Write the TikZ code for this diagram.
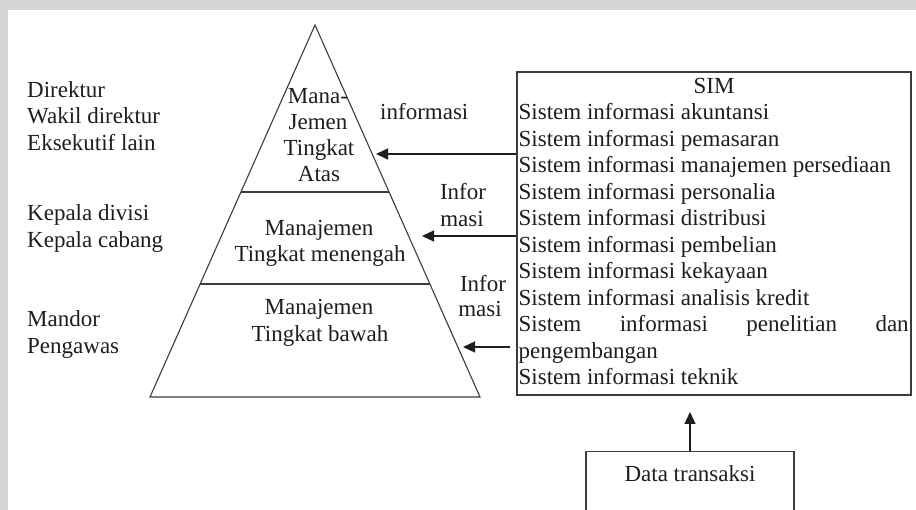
\documentclass[tikz,border=0pt]{standalone}
\usepackage{fontspec}
\setmainfont{Liberation Serif}
\usetikzlibrary{arrows.meta,calc}
\definecolor{frame}{RGB}{214,214,214}
\definecolor{ink}{RGB}{30,30,30}
\definecolor{rule}{RGB}{60,60,60}

\begin{document}
\begin{tikzpicture}[x=1pt,y=-1pt,
  txt/.style={font=\fontsize{23}{26.5}\selectfont, text=ink, inner sep=0pt},
  lft/.style={txt, anchor=base west},
  mid/.style={txt, anchor=base},
  edge/.style={line width=1.1pt, draw=rule},
  arr/.style={line width=1.3pt, draw=ink, -{Triangle[length=12pt,width=11pt]}},
]
% page frame
\useasboundingbox (0,0) rectangle (916,510);
\clip (0,0) rectangle (916,510);
\fill[frame] (0,0) rectangle (916,510);
\fill[white] (8,10) rectangle (916,510);

% management pyramid
\coordinate (apex) at (315,25);
\coordinate (bl) at (150,397);
\coordinate (br) at (480,397);
\draw[edge] (bl) -- (apex) -- (br) -- cycle;
\draw[edge] ($(apex)!0.4489!(bl)$) -- ($(apex)!0.4489!(br)$);
\draw[edge] ($(apex)!0.6962!(bl)$) -- ($(apex)!0.6962!(br)$);

% levels inside the pyramid
\node[mid] (t1) at (318,103.5) {Mana-};
\node[mid] (t2) at (318,130) {Jemen};
\node[mid] (t3) at (319,156) {Tingkat};
\node[mid] (t4) at (319,182) {Atas};
\node[mid] (m1) at (319,236) {Manajemen};
\node[mid] (m2) at (320,262) {Tingkat menengah};
\node[mid] (b1) at (319,315) {Manajemen};
\node[mid] (b2) at (320,341.5) {Tingkat bawah};

% positions for each level
\node[lft] (p1) at (27,97.3) {Direktur};
\node[lft] (p2) at (27,123.8) {Wakil direktur};
\node[lft] (p3) at (27,150.3) {Eksekutif lain};
\node[lft] (p4) at (27,220.7) {Kepala divisi};
\node[lft] (p5) at (27,247.2) {Kepala cabang};
\node[lft] (p6) at (27,326.7) {Mandor};
\node[lft] (p7) at (27,353.2) {Pengawas};

% SIM box
\node[draw=rule, line width=1.1pt, minimum width=394pt, minimum height=323pt, inner sep=0pt] (sim) at (714,233.5) {};
\node[mid] (s0) at (714,93.5) {SIM};
\node[lft] (s1) at (518.5,120) {Sistem informasi akuntansi};
\node[lft] (s2) at (518.5,146.5) {Sistem informasi pemasaran};
\node[lft] (s3) at (518.5,173) {Sistem informasi manajemen persediaan};
\node[lft] (s4) at (518.5,199.5) {Sistem informasi personalia};
\node[lft] (s5) at (518.5,226) {Sistem informasi distribusi};
\node[lft] (s6) at (518.5,252.5) {Sistem informasi pembelian};
\node[lft] (s7) at (518.5,279) {Sistem informasi kekayaan};
\node[lft] (s8) at (518.5,305.5) {Sistem informasi analisis kredit};
\node[lft] (s9) at (518.5,332) {\hbox to 390pt{Sistem\hfill informasi\hfill penelitian\hfill dan}};
\node[lft] (s10) at (518.5,358.5) {pengembangan};
\node[lft] (s11) at (518.5,385) {Sistem informasi teknik};

% transaction data box
\node[draw=rule, line width=1.1pt, minimum width=208pt, minimum height=89pt, anchor=north, inner sep=0pt] (data) at (690,451) {};
\node[mid] (dtext) at (690,481.7) {Data transaksi};

% information flow labels
\node[lft] (i1) at (380,120) {informasi};
\node[mid] (i2a) at (463,200) {Infor};
\node[mid] (i2b) at (462,226.5) {masi};
\node[mid] (i3a) at (483,291.7) {Infor};
\node[mid] (i3b) at (480,317) {masi};

% arrow end points
\coordinate (e1) at (376,154);
\coordinate (e2) at (422,236);
\coordinate (e3) at (463,347);
\coordinate (f3) at (510,347);
\coordinate (e4) at (690,412);

\draw[arr] (sim.west |- e1) -- (e1);
\draw[arr] (sim.west |- e2) -- (e2);
\draw[arr] (f3) -- (e3);
\draw[arr] (data.north) -- (e4);
\end{tikzpicture}
\end{document}
